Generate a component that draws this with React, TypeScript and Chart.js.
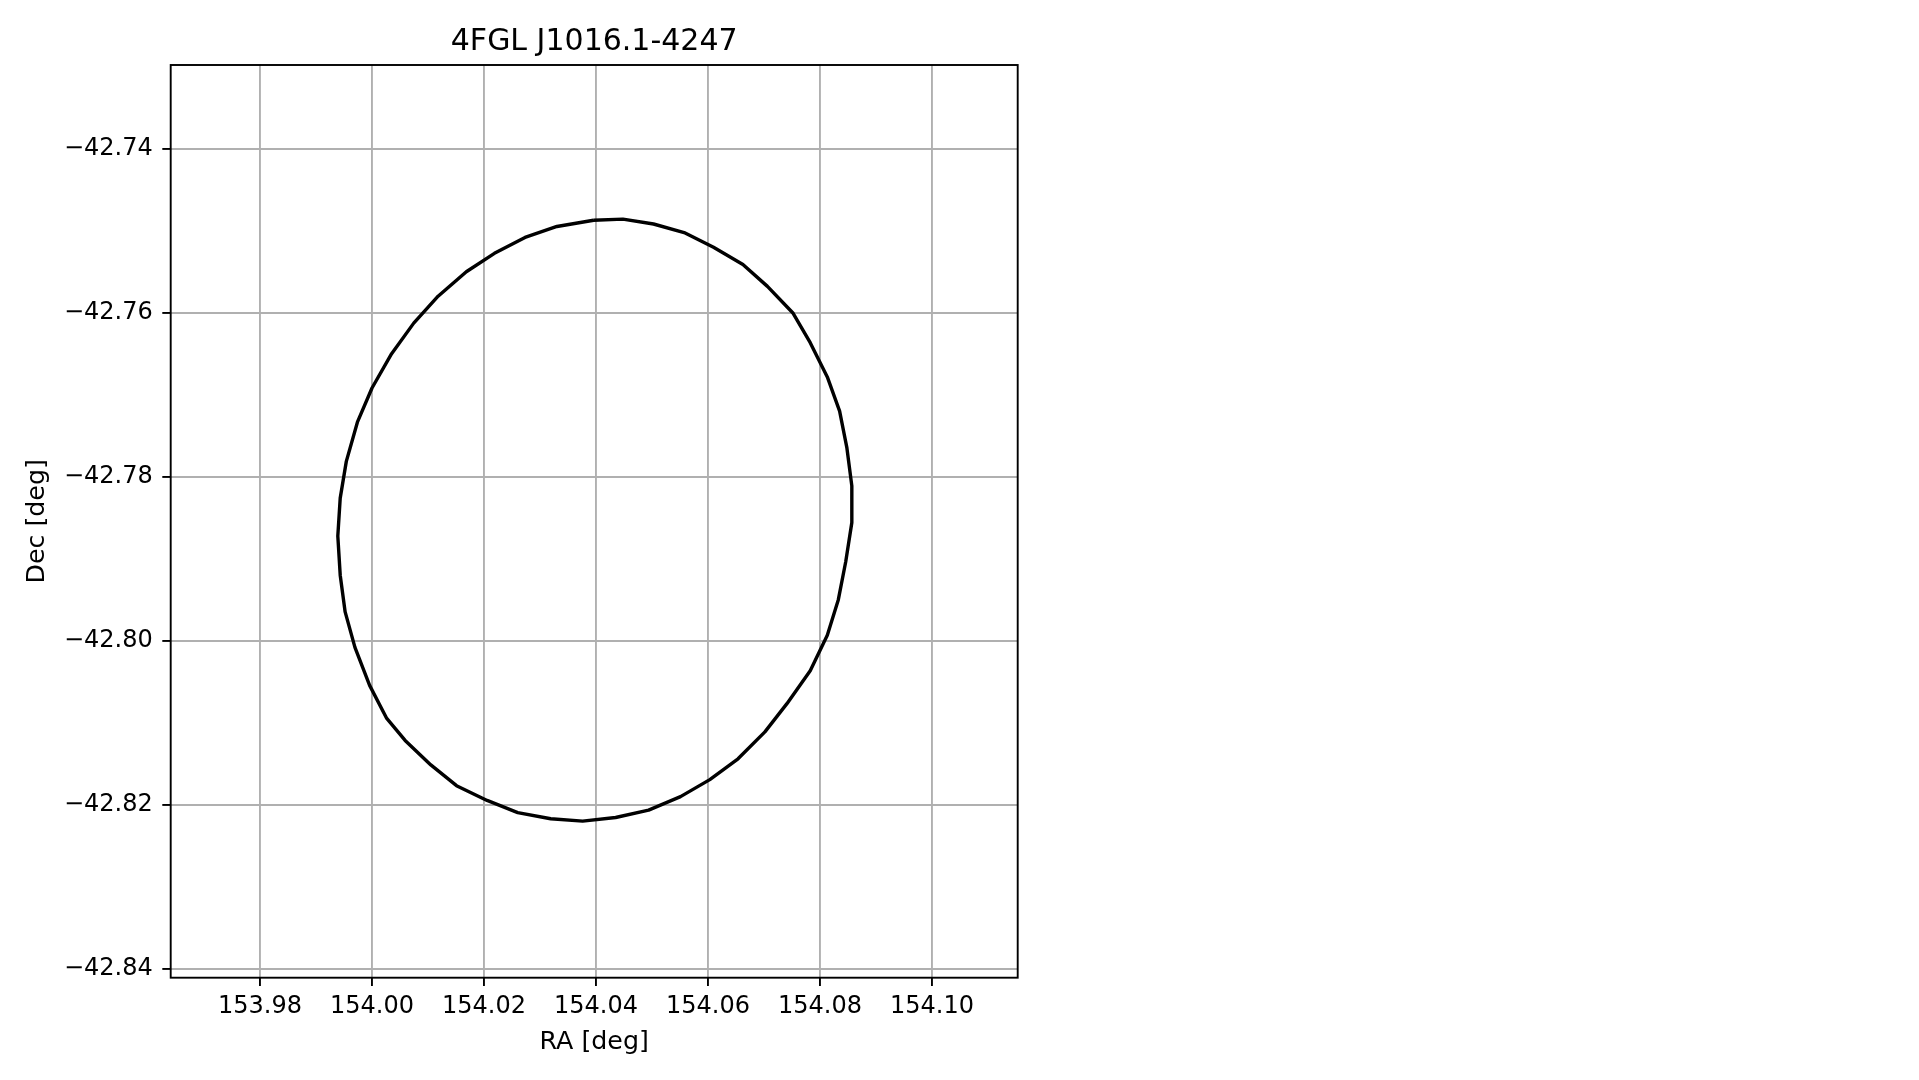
import React, { useEffect, useRef } from "react";
import { Chart, registerables } from "chart.js";

Chart.register(...registerables);

// ---- data ----
const TITLE = "4FGL J1016.1-4247";
const X_LABEL = "RA [deg]";
const Y_LABEL = "Dec [deg]";

const RA_DEG = [
  154.03957, 154.0448, 154.05027, 154.05573, 154.06098, 154.06623, 154.07061, 154.0752,
  154.07825, 154.0813, 154.0835, 154.0848, 154.08568, 154.08568, 154.08459, 154.08327,
  154.0813, 154.07825, 154.07409, 154.07016, 154.06536, 154.06032, 154.05509, 154.04939,
  154.0435, 154.03761, 154.03191, 154.02602, 154.02055, 154.01509, 154.0105, 154.00591,
  154.00263, 153.99957, 153.99695, 153.9952, 153.99432, 153.99389, 153.99432, 153.99541,
  153.99739, 154.0, 154.0035, 154.00745, 154.0118, 154.01684, 154.02186, 154.02732,
  154.03302, 154.03957,
];
const DEC_DEG = [
  -42.74873, -42.74859, -42.74918, -42.75022, -42.75201, -42.75411, -42.75679, -42.76007,
  -42.76366, -42.76783, -42.77201, -42.77649, -42.78112, -42.7856, -42.79037, -42.795,
  -42.79933, -42.80366, -42.80768, -42.81112, -42.8144, -42.81694, -42.81902, -42.82067,
  -42.82156, -42.82201, -42.82172, -42.82096, -42.81948, -42.81768, -42.81515, -42.81216,
  -42.80948, -42.80545, -42.80082, -42.79649, -42.79201, -42.78723, -42.78261, -42.77813,
  -42.77335, -42.76918, -42.765, -42.76127, -42.75799, -42.755, -42.75276, -42.75082,
  -42.74948, -42.74873,
];

const X_RANGE = [153.96405, 154.1153];
const Y_RANGE = [-42.8411, -42.72979];
const TICK_STEP = 0.02;

const fmt = (v: number) => Number(v).toFixed(2).replace("-", "\u2212");

const frame = {
  id: "frame",
  afterDraw(chart: any) {
    const { ctx, chartArea } = chart;
    ctx.save();
    ctx.strokeStyle = "#000000";
    ctx.lineWidth = 1.9;
    ctx.strokeRect(chartArea.left, chartArea.top, chartArea.right - chartArea.left, chartArea.bottom - chartArea.top);
    ctx.restore();
  },
};

export default function App() {
  const ref = useRef<HTMLCanvasElement | null>(null);

  useEffect(() => {
    if (!ref.current) return;
    Chart.defaults.font.family = "'DejaVu Sans', sans-serif";
    Chart.defaults.color = "#000000";
    const points = RA_DEG.map((x, i) => ({ x, y: DEC_DEG[i] }));
    const chart = new Chart(ref.current, {
      type: "scatter",
      data: {
        datasets: [
          {
            data: points,
            showLine: true,
            pointRadius: 0,
            pointHoverRadius: 0,
            borderColor: "#000000",
            borderWidth: 3.4,
            borderJoinStyle: "round",
            tension: 0,
            fill: false,
          },
        ],
      },
      options: {
        animation: false,
        responsive: false,
        devicePixelRatio: 1,
        events: [],
        layout: { padding: { left: 0, top: 0, right: 901.3, bottom: 0 } },
        plugins: {
          legend: { display: false },
          tooltip: { enabled: false },
          title: {
            display: true,
            text: TITLE,
            fullSize: false,
            color: "#000000",
            font: { size: 30, weight: "normal", family: "'DejaVu Sans', sans-serif" },
            padding: { top: 24.5, bottom: 4.5 },
          },
        },
        scales: {
          x: {
            type: "linear",
            position: "bottom",
            min: X_RANGE[0],
            max: X_RANGE[1],
            afterFit: (s: any) => {
              s.height = 102.3;
            },
            border: { display: false },
            grid: {
              color: "#b0b0b0",
              lineWidth: 1.9,
              drawTicks: true,
              tickLength: 8.4,
              tickColor: "#000000",
              tickWidth: 1.9,
            },
            ticks: {
              stepSize: TICK_STEP,
              includeBounds: false,
              autoSkip: false,
              maxRotation: 0,
              padding: 6.5,
              color: "#000000",
              font: { size: 24 },
              callback: (v: any) => fmt(v),
            },
            title: {
              display: true,
              text: X_LABEL,
              color: "#000000",
              font: { size: 25.3 },
              padding: { top: 0, bottom: 22.5 },
            },
          },
          y: {
            type: "linear",
            position: "left",
            min: Y_RANGE[0],
            max: Y_RANGE[1],
            afterFit: (s: any) => {
              s.width = 170.7;
            },
            border: { display: false },
            grid: {
              color: "#b0b0b0",
              lineWidth: 1.9,
              drawTicks: true,
              tickLength: 8.4,
              tickColor: "#000000",
              tickWidth: 1.9,
            },
            ticks: {
              stepSize: TICK_STEP,
              includeBounds: false,
              autoSkip: false,
              padding: 9.6,
              color: "#000000",
              font: { size: 24 },
              callback: (v: any) => fmt(v),
            },
            title: {
              display: true,
              text: Y_LABEL,
              color: "#000000",
              font: { size: 25.3 },
              padding: { top: 22.2, bottom: 0 },
            },
          },
        },
      },
      plugins: [frame],
    } as any);
    return () => chart.destroy();
  }, []);

  return (
    <div style={{ position: "absolute", left: 0, top: 0, width: 1919, height: 1080, background: "#ffffff" }}>
      <canvas ref={ref} width={1919} height={1080} style={{ display: "block", width: 1919, height: 1080 }} />
    </div>
  );
}
